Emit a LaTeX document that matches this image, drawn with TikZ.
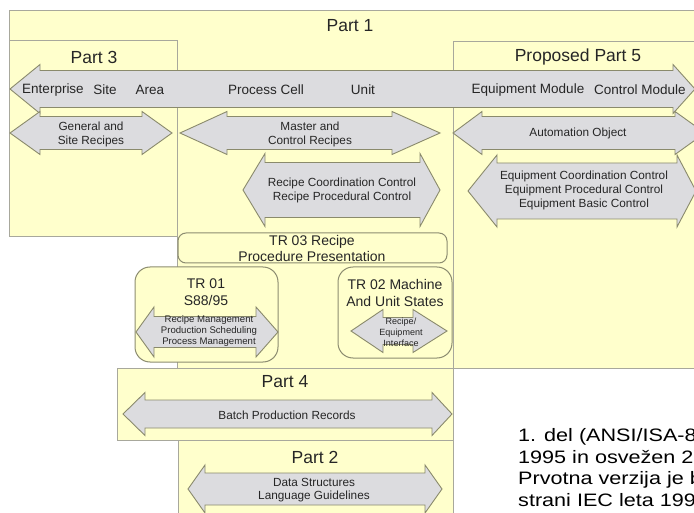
\documentclass[tikz,border=0pt]{standalone}
\usepackage{fontspec}
\setmainfont{Liberation Sans}
\usepackage{graphicx}
\definecolor{yfill}{HTML}{FFFFCC}
\definecolor{boxline}{HTML}{A8A89C}
\definecolor{trline}{HTML}{8C8C70}
\definecolor{arrfill}{HTML}{DCDCDF}
\definecolor{arrline}{HTML}{8A8A6C}
\definecolor{txt}{HTML}{262626}
\newcommand{\DblArr}[7]{%
  \draw[arr] (#1,#5) -- (#2,#5-#7) -- (#2,#5-#6) -- (#3,#5-#6) -- (#3,#5-#7)
    -- (#4,#5) -- (#3,#5+#7) -- (#3,#5+#6) -- (#2,#5+#6) -- (#2,#5+#7) -- cycle;}
\begin{document}
\begin{tikzpicture}[x=1pt,y=-1pt,
  part/.style={draw=boxline, fill=yfill, line width=1pt},
  trbox/.style={draw=trline, fill=yfill, line width=1pt},
  arr/.style={draw=arrline, fill=arrfill, line width=0.9pt, line join=miter},
  lbl/.style={inner sep=0pt, align=center, text=txt},
  fpart/.style={font=\fontsize{17.5}{20}\selectfont},
  flvl/.style={font=\fontsize{13.5}{16}\selectfont},
  farr/.style={font=\fontsize{11.8}{14}\selectfont},
  ftr/.style={font=\fontsize{14}{16.5}\selectfont},
  ftiny/.style={font=\fontsize{9.6}{11}\selectfont},
  fnote/.style={font=\fontsize{18}{21.7}\selectfont}]
\useasboundingbox (0,0) rectangle (694,513);
\clip (0,0) rectangle (694,513);
\fill[white] (0,0) rectangle (694,513);
% part boxes
\draw[part] (9,11) -- (700,11) -- (700,368) -- (177,368) -- (177,237) -- (9,237) -- cycle;
\draw[part] (9,41) rectangle (177,237);
\draw[part] (453,42) rectangle (700,368);
\draw[trbox, rounded corners=8pt] (178,233) rectangle (447,263);
\draw[trbox, rounded corners=15pt] (135,267) rectangle (278,362);
\draw[trbox, rounded corners=15pt] (338,267) rectangle (452,358);
\draw[part] (117,368) rectangle (453,440);
\draw[part] (178,440) rectangle (453,520);
% arrows
\DblArr{10}{40}{673}{695}{89}{18.5}{24.5}
\DblArr{10}{40}{142}{172}{133}{16.5}{21.5}
\DblArr{180}{227}{392}{440}{133}{16.5}{21.5}
\DblArr{453}{482}{675}{705}{133}{16.5}{21.5}
\DblArr{243}{265}{420}{440}{190}{27.5}{36.5}
\DblArr{468}{497}{677}{696}{191}{28}{36}
\DblArr{136}{154}{256}{278}{332}{15.5}{25}
\DblArr{351}{383}{413}{447}{331}{13.5}{21.5}
\DblArr{123}{145}{432}{452}{414}{14}{21.5}
\DblArr{188}{205}{425}{442}{489}{16}{24}
% titles
\node[lbl, fpart] (t1) at (350,26) {Part 1};
\node[lbl, fpart] (t3) at (94,57) {Part 3};
\node[lbl, fpart] (t5) at (578,57) {Proposed Part 5};
\node[lbl, fpart] (t4) at (285,382) {Part 4};
\node[lbl, fpart] (t2) at (315,457) {Part 2};
% levels
\node[lbl, flvl] (ent) at (53,90) {Enterprise};
\node[lbl, flvl] (site) at (105,90) {Site};
\node[lbl, flvl] (area) at (150,90) {Area};
\node[lbl, flvl] (pc) at (266,90) {Process Cell};
\node[lbl, flvl] (unit) at (363,90) {Unit};
\node[lbl, flvl] (em) at (528,90) {Equipment Module};
\node[lbl, flvl] (cm) at (640,90) {Control Module};
% arrow texts
\node[lbl, farr] (gsr) at (91,134) {General and\\Site Recipes};
\node[lbl, farr] (mcr) at (310,134) {Master and\\Control Recipes};
\node[lbl, farr] (ao) at (578,133) {Automation Object};
\node[lbl, farr] (rcc) at (342,190) {Recipe Coordination Control\\Recipe Procedural Control};
\node[lbl, farr] (ecc) at (584,190) {Equipment Coordination Control\\Equipment Procedural Control\\Equipment Basic Control};
\node[lbl, farr] (bpr) at (287,415) {Batch Production Records};
\node[lbl, farr, font=\fontsize{11.8}{13.5}\selectfont] (ds) at (314,490) {Data Structures\\Language Guidelines};
% TR texts
\node[lbl, ftr] (tr3) at (312,248.5) {TR 03 Recipe\\Procedure Presentation};
\node[lbl, ftr] (tr1) at (206,292) {TR 01\\S88/95};
\node[lbl, ftr] (tr2) at (395,293) {TR 02 Machine\\And Unit States};
\node[lbl, ftiny] (rm) at (209,331) {Recipe Management\\Production Scheduling\\Process Management};
\node[lbl, ftiny, font=\fontsize{9}{11}\selectfont] (rei) at (401,332) {Recipe/\\Equipment\\Interface};
% note text (cut off at the right edge, as in the reference)
\node[inner sep=0pt, anchor=base west, fnote, text=black] (n1) at (518,441) {\scalebox{1.2}[1]{1. del (ANSI/ISA-88}};
\node[inner sep=0pt, anchor=base west, fnote, text=black] (n2) at (518,463) {\scalebox{1.2}[1]{1995 in osvežen 20}};
\node[inner sep=0pt, anchor=base west, fnote, text=black] (n3) at (518,484.5) {\scalebox{1.2}[1]{Prvotna verzija je b}};
\node[inner sep=0pt, anchor=base west, fnote, text=black] (n4) at (518,506) {\scalebox{1.2}[1]{strani IEC leta 199}};
\end{tikzpicture}
\end{document}
